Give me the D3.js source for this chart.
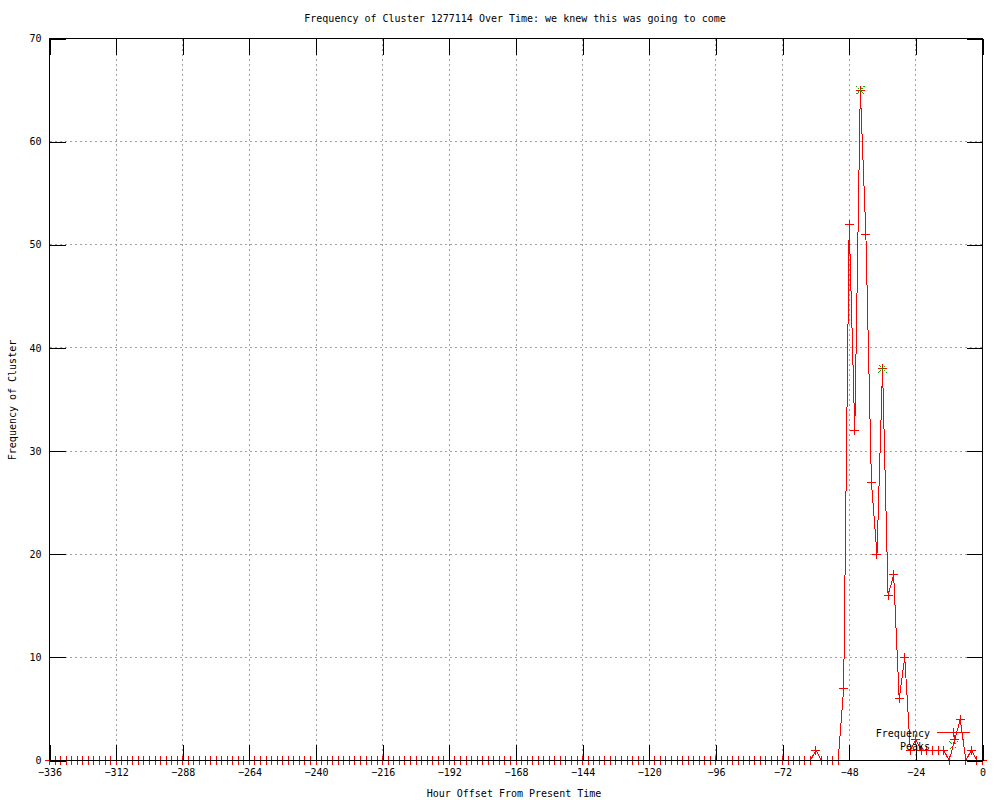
<!DOCTYPE html>
<html>
<head>
<meta charset="utf-8">
<script src="https://cdn.jsdelivr.net/npm/d3@7"></script>
<style>
  html, body { margin: 0; padding: 0; background: #fff; }
  svg { display: block; }
  line, path, rect { shape-rendering: crispEdges; }
  text { font-family: "DejaVu Sans Mono", "Liberation Mono", monospace; font-size: 10px; fill: #000; }
</style>
</head>
<body>
<svg id="chart" width="1000" height="800"></svg>
<script>
// ---- data ----
const chartTitle = "Frequency of Cluster 1277114 Over Time: we knew this was going to come";
const xLabel = "Hour Offset From Present Time";
const yLabel = "Frequency of Cluster";
const seriesNames = ["Frequency", "Peaks"];

const hours = [
  -336,-334,-332,-330,-328,-326,-324,-322,-320,-318,-316,-314,-312,-310,-308,-306,-304,-302,-300,-298,
  -296,-294,-292,-290,-288,-286,-284,-282,-280,-278,-276,-274,-272,-270,-268,-266,-264,-262,-260,-258,
  -256,-254,-252,-250,-248,-246,-244,-242,-240,-238,-236,-234,-232,-230,-228,-226,-224,-222,-220,-218,
  -216,-214,-212,-210,-208,-206,-204,-202,-200,-198,-196,-194,-192,-190,-188,-186,-184,-182,-180,-178,
  -176,-174,-172,-170,-168,-166,-164,-162,-160,-158,-156,-154,-152,-150,-148,-146,-144,-142,-140,-138,
  -136,-134,-132,-130,-128,-126,-124,-122,-120,-118,-116,-114,-112,-110,-108,-106,-104,-102,-100,-98,
  -96,-94,-92,-90,-88,-86,-84,-82,-80,-78,-76,-74,-72,-70,-68,-66,-64,-62,-60,-58,
  -56,-54,-52,-50,-48,-46,-44,-42,-40,-38,-36,-34,-32,-30,-28,-26,-24,-22,-20,-18,
  -16,-14,-12,-10,-8,-6,-4,-2,0
];
const frequency = [
  0,0,0,0,0,0,0,0,0,0,0,0,0,0,0,0,0,0,0,0,
  0,0,0,0,0,0,0,0,0,0,0,0,0,0,0,0,0,0,0,0,
  0,0,0,0,0,0,0,0,0,0,0,0,0,0,0,0,0,0,0,0,
  0,0,0,0,0,0,0,0,0,0,0,0,0,0,0,0,0,0,0,0,
  0,0,0,0,0,0,0,0,0,0,0,0,0,0,0,0,0,0,0,0,
  0,0,0,0,0,0,0,0,0,0,0,0,0,0,0,0,0,0,0,0,
  0,0,0,0,0,0,0,0,0,0,0,0,0,0,0,0,0,0,1,0,
  0,0,0,7,52,32,65,51,27,20,38,16,18,6,10,1,2,1,1,1,
  1,1,0,2,4,0,1,0,0
];
const peakHours = [-44, -36];
const peakValues = [65, 38];
const xTicks = [-336,-312,-288,-264,-240,-216,-192,-168,-144,-120,-96,-72,-48,-24,0];
const yTicks = [0,10,20,30,40,50,60,70];

if (hours.length !== frequency.length) console.error("length mismatch", hours.length, frequency.length);

// ---- layout ----
const L = 49.5, R = 982.5, T = 38.5, B = 760.5;
const svg = d3.select("#chart");

const x = d3.scaleLinear().domain([-336, 0]).range([L, R]);
const y = d3.scaleLinear().domain([0, 70]).range([B, T]);

const tickLen = 16;

// grid
const grid = svg.append("g");
xTicks.filter(t => t !== -336 && t !== 0).forEach(t => {
  grid.append("line").attr("x1", x(t)).attr("x2", x(t)).attr("y1", T).attr("y2", B)
    .attr("stroke", "#a0a0a0").attr("stroke-width", 1).attr("stroke-dasharray", "2,3");
});
yTicks.filter(t => t !== 0 && t !== 70).forEach(t => {
  grid.append("line").attr("x1", L).attr("x2", R).attr("y1", y(t)).attr("y2", y(t))
    .attr("stroke", "#a0a0a0").attr("stroke-width", 1).attr("stroke-dasharray", "2,3");
});

// axes (ticks inward, mirrored)
const axB = d3.axisBottom(x).tickValues(xTicks).tickSizeInner(-tickLen).tickSizeOuter(0).tickPadding(6).tickFormat(d3.format("d"));
const axT = d3.axisTop(x).tickValues(xTicks).tickSizeInner(-tickLen).tickSizeOuter(0).tickFormat("");
const axL = d3.axisLeft(y).tickValues(yTicks).tickSizeInner(-tickLen).tickSizeOuter(0).tickPadding(8).tickFormat(d3.format("d"));
const axR = d3.axisRight(y).tickValues(yTicks).tickSizeInner(-tickLen).tickSizeOuter(0).tickFormat("");

function styleAxis(g) {
  g.select(".domain").remove();
  g.selectAll(".tick line").attr("stroke", "#000").attr("stroke-width", 1);
  g.selectAll("text").attr("font-family", "DejaVu Sans Mono, monospace").attr("font-size", 10).attr("fill", "#000");
}

// data line
const lineGen = d3.line().x((d, i) => x(hours[i])).y(d => y(d));
const dataG = svg.append("g");
dataG.append("path").datum(frequency).attr("d", lineGen)
  .attr("fill", "none").attr("stroke", "#ff0000").attr("stroke-width", 1);

const ps = 4.5;
function plus(g, cx, cy, color) {
  g.append("line").attr("x1", cx - ps).attr("x2", cx + ps).attr("y1", cy).attr("y2", cy).attr("stroke", color);
  g.append("line").attr("x1", cx).attr("x2", cx).attr("y1", cy - ps).attr("y2", cy + ps).attr("stroke", color);
}
function cross(g, cx, cy, color) {
  const s = 4;
  g.append("line").attr("x1", cx - s).attr("x2", cx + s).attr("y1", cy - s).attr("y2", cy + s).attr("stroke", color).attr("stroke-dasharray", "1.5,1");
  g.append("line").attr("x1", cx - s).attr("x2", cx + s).attr("y1", cy + s).attr("y2", cy - s).attr("stroke", color).attr("stroke-dasharray", "1.5,1");
}
frequency.forEach((v, i) => plus(dataG, x(hours[i]), y(v), "#ff0000"));
peakHours.forEach((h, i) => cross(dataG, x(h), y(peakValues[i]), "#00b000"));

// axes drawn on top
svg.append("g").attr("transform", `translate(0,${B})`).call(axB).call(styleAxis)
  .selectAll("text").attr("dy", "0.9em");
svg.append("g").attr("transform", `translate(0,${T})`).call(axT).call(styleAxis);
svg.append("g").attr("transform", `translate(${L},0)`).call(axL).call(styleAxis);
svg.append("g").attr("transform", `translate(${R},0)`).call(axR).call(styleAxis);

// border
svg.append("rect").attr("x", L).attr("y", T).attr("width", R - L).attr("height", B - T)
  .attr("fill", "none").attr("stroke", "#000").attr("stroke-width", 1);

// legend
const lg = svg.append("g");
lg.append("text").attr("x", 930).attr("y", 737).attr("text-anchor", "end").text(seriesNames[0]);
lg.append("line").attr("x1", 937).attr("x2", 970).attr("y1", 732.5).attr("y2", 732.5).attr("stroke", "#ff0000");
plus(lg, 953.5, 732.5, "#ff0000");
lg.append("text").attr("x", 930).attr("y", 750).attr("text-anchor", "end").text(seriesNames[1]);
cross(lg, 953.5, 745.5, "#00b000");

// titles
svg.append("text").attr("x", 515).attr("y", 22).attr("text-anchor", "middle").text(chartTitle);
svg.append("text").attr("x", 514).attr("y", 797).attr("text-anchor", "middle").text(xLabel);
svg.append("text").attr("transform", "translate(16,400) rotate(-90)").attr("text-anchor", "middle").text(yLabel);
</script>
</body>
</html>
